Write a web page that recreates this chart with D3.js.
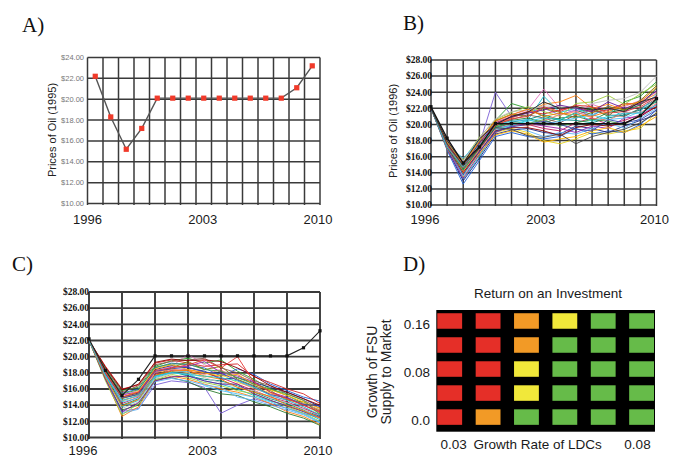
<!DOCTYPE html>
<html>
<head>
<meta charset="utf-8">
<script src="https://d3js.org/d3.v7.min.js"></script>
<style>
  body { margin: 0; background: #fff; }
  svg { display: block; }
</style>
</head>
<body>
<svg id="fig" width="674" height="461"></svg>
<script>
// ---- data

var years = [1996, 1997, 1998, 1999, 2000, 2001, 2002, 2003, 2004, 2005, 2006, 2007, 2008, 2009, 2010];
var yearLabels = [1996, 2003, 2010];

// A) single price path (also the black reference path in B and C)
var oilBase = [22.2, 18.3, 15.2, 17.2, 20.1, 20.1, 20.1, 20.1, 20.1, 20.1, 20.1, 20.1, 20.1, 21.1, 23.2];
var ticksA = [10, 12, 14, 16, 18, 20, 22, 24];

// B) simulated paths
var ticksB = [10, 12, 14, 16, 18, 20, 22, 24, 26, 28];
var runsB = [
  [22, 17.8, 13.8, 17.5, 24.0, 21.0, 21.5, 22.0, 21.2, 21.8, 21.0, 22.3, 21.5, 22.5, 23.5],
  [22, 17.5, 14.5, 17.8, 20.5, 22.6, 22.0, 21.0, 20.5, 21.5, 22.0, 21.0, 22.8, 23.5, 25.3],
  [22, 18.0, 15.5, 18.2, 20.3, 21.2, 21.8, 24.4, 22.0, 21.5, 22.5, 21.8, 22.2, 23.0, 24.0],
  [22, 17.2, 14.2, 17.0, 20.0, 20.8, 21.5, 22.5, 22.8, 23.6, 22.0, 22.5, 21.8, 22.8, 23.8],
  [22, 16.9, 13.5, 16.2, 19.0, 19.5, 19.0, 18.0, 17.6, 18.2, 19.0, 18.8, 19.2, 19.5, 21.5],
  [22, 16.8, 12.6, 15.5, 18.5, 19.0, 18.5, 18.2, 18.5, 19.5, 18.8, 19.2, 19.0, 20.0, 21.8],
  [22, 17.3, 13.2, 16.0, 19.2, 20.0, 20.5, 23.5, 21.5, 22.0, 21.2, 22.0, 21.0, 22.0, 23.0],
  [22, 17.6, 15.0, 17.6, 20.2, 21.0, 21.6, 21.3, 21.8, 22.3, 21.5, 21.8, 22.6, 22.5, 23.5],
  [22, 17.4, 14.8, 17.2, 19.8, 20.5, 20.8, 20.2, 20.8, 21.0, 20.5, 21.5, 21.8, 22.4, 24.5],
  [22, 17.0, 13.0, 15.8, 18.8, 19.3, 19.5, 19.0, 18.8, 19.8, 19.5, 19.0, 19.8, 20.5, 21.2],
  [22, 17.5, 14.0, 16.8, 19.5, 20.2, 20.0, 19.5, 19.2, 20.2, 20.8, 20.0, 20.5, 21.2, 22.2],
  [22, 17.8, 15.2, 18.0, 20.4, 21.3, 21.0, 22.0, 21.5, 20.8, 21.5, 22.2, 21.8, 23.0, 24.8],
  [22, 17.1, 13.6, 16.5, 19.3, 19.8, 19.2, 18.5, 19.0, 18.8, 19.5, 20.2, 19.5, 20.8, 22.0],
  [22, 17.6, 14.6, 17.4, 20.0, 20.6, 21.2, 20.8, 20.2, 21.2, 21.8, 21.2, 21.0, 22.0, 23.2],
  [22, 17.3, 14.4, 17.1, 19.6, 20.3, 20.6, 21.2, 20.6, 20.5, 20.2, 20.8, 21.2, 21.8, 22.8],
  [22, 17.0, 13.3, 16.3, 19.0, 19.8, 20.2, 19.8, 19.5, 19.0, 19.8, 19.5, 20.8, 21.0, 22.5],
  [22, 17.7, 15.6, 18.4, 20.6, 21.5, 22.2, 21.6, 21.0, 22.6, 22.8, 23.6, 22.5, 23.8, 25.0],
  [22, 17.4, 14.1, 16.9, 19.4, 20.0, 19.8, 20.5, 21.2, 21.6, 20.8, 20.5, 21.5, 21.5, 22.6],
  [22, 17.9, 15.4, 18.3, 20.7, 21.6, 21.8, 22.3, 22.2, 22.0, 22.6, 23.0, 23.2, 24.0, 26.0],
  [22, 17.2, 14.0, 16.6, 19.2, 19.6, 19.6, 19.2, 18.6, 19.6, 20.0, 19.8, 20.2, 21.0, 22.2],
  [22, 17.5, 15.8, 18.0, 20.0, 20.4, 20.6, 20.0, 20.4, 20.8, 21.2, 20.6, 20.8, 21.6, 23.8],
  [22, 17.0, 13.9, 16.4, 18.7, 19.2, 18.8, 17.8, 18.2, 18.5, 19.2, 19.6, 19.0, 19.8, 21.0],
  [22, 17.6, 14.9, 17.7, 20.1, 20.9, 21.4, 21.8, 22.4, 22.0, 21.6, 22.8, 22.0, 22.6, 24.2],
  [22, 17.3, 14.3, 17.0, 19.7, 20.2, 20.1, 20.6, 19.8, 20.2, 20.6, 20.4, 20.0, 21.2, 23.0],
  [22, 17.1, 13.8, 16.6, 19.1, 19.7, 20.0, 20.4, 20.0, 19.4, 19.2, 20.6, 20.2, 20.6, 21.8],
  [22, 17.8, 15.0, 17.9, 20.5, 21.2, 21.9, 21.0, 21.4, 21.2, 21.0, 21.6, 22.4, 22.8, 24.6],
  [22, 17.4, 14.6, 17.3, 19.9, 20.7, 21.0, 22.2, 21.6, 22.4, 22.2, 21.4, 21.6, 22.2, 23.4],
  [22, 17.2, 14.7, 17.5, 19.5, 19.9, 20.4, 20.8, 20.6, 21.4, 20.4, 21.0, 21.4, 21.4, 22.4],
  [22, 18.0, 15.2, 18.2, 20.0, 21.0, 21.5, 22.8, 22.0, 22.2, 21.8, 22.0, 21.6, 22.8, 23.4],
  [22, 17.6, 14.9, 17.0, 19.6, 19.4, 18.6, 18.4, 18.8, 17.6, 18.5, 19.0, 19.4, 20.2, 21.4]
];

// C) simulated paths, falling demand case
var ticksC = [10, 12, 14, 16, 18, 20, 22, 24, 26, 28];
var gridYearsC = [1996, 1998, 2000, 2002, 2004, 2006, 2008, 2010];
var runsC = [
  [22, 17.5, 13.2, 13.6, 16.5, 17.0, 16.8, 16.2, 13.0, 14.0, 14.8, 14.2, 13.6, 13.0, 12.4],
  [22, 18.5, 15.8, 16.2, 18.8, 19.5, 19.8, 19.2, 19.6, 18.2, 17.2, 16.0, 15.2, 14.2, 13.4],
  [22, 18.0, 15.2, 15.8, 18.2, 18.8, 20.3, 19.0, 18.2, 17.8, 16.5, 15.2, 14.6, 13.8, 12.6],
  [22, 17.2, 12.6, 13.8, 17.0, 17.6, 17.2, 16.6, 16.0, 15.6, 15.0, 14.2, 13.2, 12.6, 11.6],
  [22, 17.8, 14.5, 15.2, 18.0, 18.5, 18.0, 17.5, 17.8, 16.8, 16.2, 15.5, 14.8, 14.0, 13.0],
  [22, 18.2, 15.5, 16.0, 18.6, 19.2, 19.0, 18.6, 17.6, 18.5, 17.8, 16.6, 15.8, 15.0, 14.5],
  [22, 17.6, 13.8, 14.6, 17.4, 18.0, 17.8, 17.0, 16.6, 16.0, 15.2, 14.5, 14.0, 13.2, 12.2],
  [22, 18.8, 16.0, 16.5, 19.2, 19.6, 19.2, 18.8, 19.0, 19.1, 17.5, 16.8, 16.0, 15.4, 14.2],
  [22, 17.3, 13.4, 14.0, 17.2, 17.4, 16.9, 16.0, 15.4, 15.2, 14.4, 13.8, 13.0, 12.4, 11.5],
  [22, 18.4, 15.0, 15.5, 18.4, 18.9, 18.6, 18.2, 17.2, 17.4, 16.8, 16.2, 15.6, 14.8, 13.8],
  [22, 17.9, 14.2, 15.0, 17.8, 18.3, 18.4, 18.0, 17.4, 16.6, 15.8, 15.0, 14.4, 13.6, 12.8],
  [22, 18.1, 14.8, 15.4, 17.6, 18.6, 19.4, 18.4, 18.8, 17.2, 16.4, 15.8, 14.6, 14.4, 13.2],
  [22, 17.4, 13.0, 13.5, 16.9, 17.3, 17.0, 16.5, 16.2, 15.0, 14.6, 14.0, 13.4, 12.8, 11.8],
  [22, 18.6, 15.6, 16.4, 19.0, 19.4, 19.6, 19.8, 18.6, 18.0, 17.0, 16.4, 15.4, 14.6, 13.6],
  [22, 17.7, 14.0, 14.8, 17.6, 18.2, 17.6, 17.2, 17.0, 16.4, 15.6, 14.8, 14.2, 13.4, 12.6],
  [22, 18.3, 15.3, 15.6, 18.0, 18.7, 18.8, 19.4, 18.0, 17.6, 16.9, 15.6, 15.0, 14.0, 13.1],
  [22, 17.0, 12.8, 14.2, 17.1, 17.8, 17.4, 16.8, 16.4, 15.8, 15.4, 14.6, 13.8, 13.0, 12.0],
  [22, 18.0, 14.6, 15.1, 18.1, 18.4, 18.2, 17.8, 18.4, 17.0, 16.0, 15.4, 14.8, 14.2, 13.4],
  [22, 17.5, 13.6, 14.4, 17.3, 17.9, 18.0, 17.4, 16.8, 16.2, 15.8, 14.9, 14.3, 13.5, 12.3],
  [22, 18.7, 15.9, 16.6, 19.3, 19.7, 19.5, 19.6, 19.4, 18.6, 17.6, 16.4, 15.6, 14.8, 14.0],
  [22, 17.8, 14.4, 14.9, 17.5, 18.1, 18.2, 16.4, 15.8, 15.4, 15.0, 14.4, 13.6, 12.9, 11.9],
  [22, 18.2, 15.0, 15.7, 18.5, 19.0, 18.4, 18.0, 17.6, 17.8, 16.6, 15.9, 15.2, 14.4, 13.6],
  [22, 17.2, 13.2, 14.3, 17.0, 17.5, 17.6, 17.0, 16.6, 16.6, 15.4, 14.6, 13.9, 13.2, 12.5],
  [22, 18.4, 15.4, 15.9, 18.7, 19.1, 19.1, 18.4, 18.2, 17.4, 16.6, 16.0, 15.4, 14.6, 12.8],
  [22, 17.9, 14.9, 15.3, 18.2, 18.5, 18.7, 18.1, 17.9, 17.1, 16.3, 15.3, 14.9, 14.1, 13.9],
  [22, 17.4, 13.9, 14.7, 17.7, 18.2, 18.3, 17.6, 17.2, 16.2, 15.6, 15.1, 14.0, 13.3, 12.4],
  [22, 18.0, 15.0, 15.6, 18.3, 18.6, 19.0, 19.6, 18.6, 20.0, 16.8, 15.6, 14.8, 14.0, 13.2],
  [22, 17.6, 14.6, 15.2, 17.6, 18.0, 17.8, 17.6, 17.4, 17.0, 16.2, 15.2, 14.6, 13.8, 12.8]
];

var runColours = ['#7b5fd6', '#2ca02c', '#e377c2', '#ff7f0e', '#e8d31a', '#1f5fd6', '#17becf', '#d62728',
  '#2e7d32', '#1a237e', '#c2185b', '#808000', '#64b5f6', '#8c564b', '#00897b', '#9c27b0',
  '#9ccc3c', '#fa8072', '#bdbdbd', '#8b0000', '#4fc3f7', '#ffb300', '#6a1b9a', '#43a047',
  '#3949ab', '#f57c00', '#e53935', '#26c6da', '#222222', '#444444'];

// D) return on an investment, rows from 0.16 (top) down to 0.0
var dRowLabels = ['0.16', '', '0.08', '', '0.0'];
var dColumns = ['c1', 'c2', 'c3', 'c4', 'c5', 'c6'];
var dCells = [
  ['R', 'R', 'O', 'Y', 'G', 'G'],
  ['R', 'R', 'O', 'G', 'G', 'G'],
  ['R', 'R', 'Y', 'G', 'G', 'G'],
  ['R', 'R', 'Y', 'G', 'G', 'G'],
  ['R', 'O', 'G', 'G', 'G', 'G']
];
var dColours = { R: '#e52f28', O: '#f29a26', Y: '#f1e83a', G: '#66bb49' };

// ---- drawing

var svg = d3.select('#fig');
var gridColour = '#3a3a3a';

function money(v) { return '$' + v.toFixed(2); }

function panelLetter(txt, x, y) {
  svg.append('text')
    .attr('x', x).attr('y', y)
    .attr('font-family', 'Liberation Serif, Times New Roman, serif')
    .attr('font-size', 21)
    .attr('fill', '#111')
    .text(txt);
}

function drawGrid(g, xs, ys, xr, yr, w) {
  g.selectAll('line.h').data(ys).enter().append('line')
    .attr('x1', xr[0]).attr('x2', xr[1])
    .attr('y1', function(d) { return d; }).attr('y2', function(d) { return d; })
    .attr('stroke', gridColour).attr('stroke-width', w);
  g.selectAll('line.v').data(xs).enter().append('line')
    .attr('x1', function(d) { return d; }).attr('x2', function(d) { return d; })
    .attr('y1', yr[0]).attr('y2', yr[1])
    .attr('stroke', gridColour).attr('stroke-width', w);
}

function yearText(g, scale, y, dx) {
  g.selectAll('text.yr').data(yearLabels).enter().append('text')
    .attr('x', function(d, i) { return scale(d) + dx[i]; })
    .attr('y', y)
    .attr('text-anchor', 'middle')
    .attr('font-family', 'Liberation Sans, Arial, sans-serif')
    .attr('font-size', 13)
    .attr('fill', '#1a1a1a')
    .text(function(d) { return d; });
}

function boldTicks(g, ticks, scale, x) {
  g.selectAll('text.tk').data(ticks).enter().append('text')
    .attr('x', x)
    .attr('y', function(d) { return scale(d) + 3.3; })
    .attr('text-anchor', 'end')
    .attr('font-family', 'Liberation Serif, Times New Roman, serif')
    .attr('font-weight', 'bold')
    .attr('font-size', 9.5)
    .attr('fill', '#111')
    .text(money);
}

function rotatedTitle(x, y, txt, size) {
  svg.append('text')
    .attr('transform', 'translate(' + x + ',' + y + ') rotate(-90)')
    .attr('text-anchor', 'middle')
    .attr('font-family', 'Liberation Sans, Arial, sans-serif')
    .attr('font-size', size)
    .attr('fill', '#222')
    .text(txt);
}

// ---------- Panel A
panelLetter('A)', 22, 32);

var xA = d3.scaleBand().domain(years).range([87.5, 320]);
var xLabA = d3.scaleLinear().domain([1996, 2010]).range([87.5, 320]);
var yA = d3.scaleLinear().domain([10, 24]).range([203.5, 57.5]);
var gA = svg.append('g');

drawGrid(gA, years.map(function(d) { return xA(d); }).concat([xA.range()[1]]),
  ticksA.map(yA), xA.range(), [57.5, 205], 1.5);

gA.selectAll('text.tk').data(ticksA).enter().append('text')
  .attr('x', 84)
  .attr('y', function(d) { return yA(d) + 2.5; })
  .attr('text-anchor', 'end')
  .attr('font-family', 'Liberation Sans, Arial, sans-serif')
  .attr('font-size', 7.5)
  .attr('fill', '#777')
  .text(money);

var lineA = d3.line()
  .x(function(d, i) { return xA(years[i]) + xA.bandwidth() / 2; })
  .y(function(d) { return yA(d); });

gA.append('path').datum(oilBase)
  .attr('d', lineA)
  .attr('fill', 'none')
  .attr('stroke', '#555')
  .attr('stroke-width', 1.4);

gA.selectAll('rect.pt').data(oilBase).enter().append('rect')
  .attr('x', function(d, i) { return xA(years[i]) + xA.bandwidth() / 2 - 2.6; })
  .attr('y', function(d) { return yA(d) - 2.6; })
  .attr('width', 5.2).attr('height', 5.2)
  .attr('fill', '#f03a2a');

rotatedTitle(56, 130, 'Prices of Oil (1995)', 11);
yearText(gA, xLabA, 224, [0, -1, -2]);

// ---------- Panel B
panelLetter('B)', 403, 30);

var xB = d3.scaleLinear().domain([1996, 2010]).range([431, 656.5]);
var yB = d3.scaleLinear().domain([10, 28]).range([205, 60]);
var gB = svg.append('g');

drawGrid(gB, years.map(xB), ticksB.map(yB), xB.range(), [60, 206], 1.5);

var lineB = d3.line()
  .x(function(d, i) { return xB(years[i]); })
  .y(function(d) { return yB(d); });

gB.selectAll('path.run').data(runsB).enter().append('path')
  .attr('d', lineB)
  .attr('fill', 'none')
  .attr('stroke', function(d, i) { return runColours[i % runColours.length]; })
  .attr('stroke-width', 1)
  .attr('opacity', 0.9);

gB.append('path').datum(oilBase)
  .attr('d', lineB)
  .attr('fill', 'none')
  .attr('stroke', '#111')
  .attr('stroke-width', 1.2);
gB.selectAll('rect.pt').data(oilBase).enter().append('rect')
  .attr('x', function(d, i) { return xB(years[i]) - 1.6; })
  .attr('y', function(d) { return yB(d) - 1.6; })
  .attr('width', 3.2).attr('height', 3.2)
  .attr('fill', '#111');

boldTicks(gB, ticksB, yB, 432);
rotatedTitle(397, 131, 'Prices of Oil (1996)', 11);
yearText(gB, xB, 224, [-6, -3, -2]);

// ---------- Panel C
panelLetter('C)', 12, 271);

var xC = d3.scaleLinear().domain([1996, 2010]).range([89, 320]);
var yC = d3.scaleLinear().domain([10, 28]).range([437.5, 292]);
var gC = svg.append('g');

drawGrid(gC, gridYearsC.map(xC), ticksC.map(yC), xC.range(), [292, 439], 1.9);

var lineC = d3.line()
  .x(function(d, i) { return xC(years[i]); })
  .y(function(d) { return yC(d); });

gC.selectAll('path.run').data(runsC).enter().append('path')
  .attr('d', lineC)
  .attr('fill', 'none')
  .attr('stroke', function(d, i) { return runColours[i % runColours.length]; })
  .attr('stroke-width', 1)
  .attr('opacity', 0.9);

gC.append('path').datum(oilBase)
  .attr('d', lineC)
  .attr('fill', 'none')
  .attr('stroke', '#222')
  .attr('stroke-width', 1.1);
gC.selectAll('rect.pt').data(oilBase).enter().append('rect')
  .attr('x', function(d, i) { return xC(years[i]) - 1.6; })
  .attr('y', function(d) { return yC(d) - 1.6; })
  .attr('width', 3.2).attr('height', 3.2)
  .attr('fill', '#111');

boldTicks(gC, ticksC, yC, 89);
yearText(gC, xC, 455, [-6, -2, -2]);

// ---------- Panel D
panelLetter('D)', 403, 271);

var xD = d3.scaleBand().domain(dColumns).range([437.3, 654]).paddingInner(0.353).paddingOuter(0);
var yD = d3.scaleBand().domain(d3.range(dCells.length)).range([310, 431.7])
  .paddingInner(0.354).paddingOuter(0.21).align(0.32);
var gD = svg.append('g');

svg.append('text')
  .attr('x', 548).attr('y', 298)
  .attr('text-anchor', 'middle')
  .attr('font-family', 'Liberation Sans, Arial, sans-serif')
  .attr('font-size', 13.5)
  .attr('fill', '#1a1a1a')
  .text('Return on an Investment');

gD.append('rect')
  .attr('x', xD.range()[0] - 1).attr('y', 310)
  .attr('width', xD.range()[1] - xD.range()[0] + 2).attr('height', 121.7)
  .attr('fill', '#000');

var rowsD = gD.selectAll('g.row').data(dCells).enter().append('g');
rowsD.selectAll('rect').data(function(d, i) {
    return d.map(function(c, j) { return { row: i, col: dColumns[j], code: c }; });
  }).enter().append('rect')
  .attr('x', function(d) { return xD(d.col); })
  .attr('y', function(d) { return yD(d.row); })
  .attr('width', xD.bandwidth())
  .attr('height', yD.bandwidth())
  .attr('fill', function(d) { return dColours[d.code]; });

gD.selectAll('text.rl').data(dRowLabels).enter().append('text')
  .attr('x', 430)
  .attr('y', function(d, i) { return yD(i) + yD.bandwidth() / 2 + 8; })
  .attr('text-anchor', 'end')
  .attr('font-family', 'Liberation Sans, Arial, sans-serif')
  .attr('font-size', 13.5)
  .attr('fill', '#1a1a1a')
  .text(function(d) { return d; });

var dBottom = [
  { t: '0.03', x: 453.7 },
  { t: 'Growth Rate of LDCs', x: 537.7 },
  { t: '0.08', x: 637.5 }
];
gD.selectAll('text.xl').data(dBottom).enter().append('text')
  .attr('x', function(d) { return d.x; })
  .attr('y', 449)
  .attr('text-anchor', 'middle')
  .attr('font-family', 'Liberation Sans, Arial, sans-serif')
  .attr('font-size', 13.5)
  .attr('fill', '#1a1a1a')
  .text(function(d) { return d.t; });

rotatedTitle(377, 372, 'Growth of FSU', 14);
rotatedTitle(391, 372, 'Supply to Market', 14);
</script>
</body>
</html>
